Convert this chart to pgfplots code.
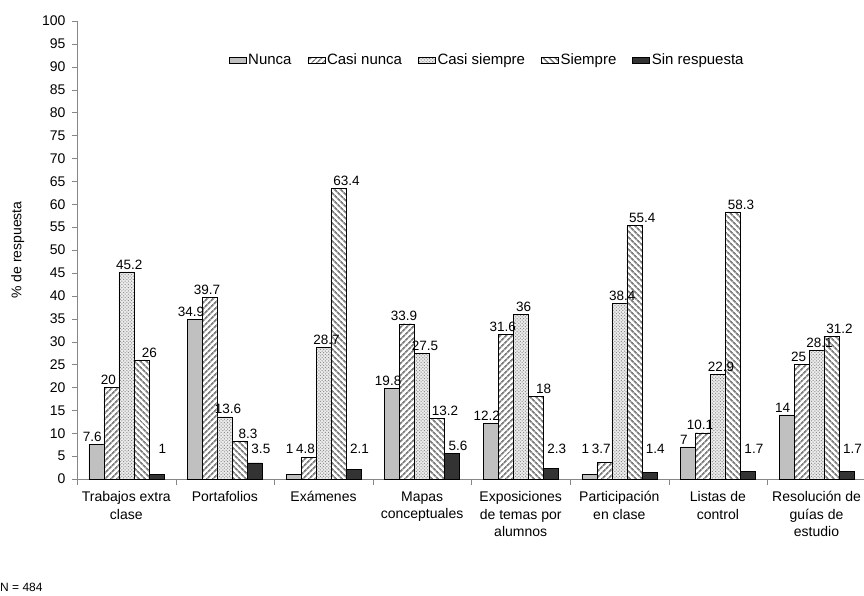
\documentclass[border=0pt]{standalone}
\usepackage{fontspec}
\setmainfont{Liberation Sans}
\usepackage{pgfplots}
\pgfplotsset{compat=1.18}
\usetikzlibrary{patterns.meta}
\definecolor{nunca}{HTML}{C0C0C0}
\definecolor{sinresp}{HTML}{333333}
\definecolor{stripe}{HTML}{7F7F7F}
\definecolor{axisgray}{HTML}{868686}

\begin{document}
\begin{tikzpicture}
\useasboundingbox (0,0) rectangle (864pt,595pt);
\begin{axis}[
  at={(77pt,116pt)}, anchor=south west,
  scale only axis, width=788.8pt, height=458pt,
  ybar=0pt, bar width=0.152,
  xmin=-0.5, xmax=7.5, ymin=0, ymax=100,
  axis lines*=left,
  axis line style={axisgray},
  xtick={0,...,7},
  xticklabels={{Trabajos extra\\clase},{Portafolios},{Exámenes},{Mapas\\conceptuales},{Exposiciones\\de temas por\\alumnos},{Participación\\en clase},{Listas de\\control},{Resolución de\\guías de\\estudio}},
  minor xtick={-0.5,0.5,...,7.5},
  major x tick style={draw=none},
  minor x tick style={axisgray},
  ytick={0,5,...,100},
  y tick style={axisgray},
  tick align=outside,
  major tick length=5pt, minor tick length=6pt,
  xticklabel style={align=center, font=\fontsize{14}{17.5}\selectfont, yshift=-4pt},
  yticklabel style={font=\fontsize{14}{16}\selectfont, xshift=-3pt},
  /pgf/number format/assume math mode=true,
  ylabel={\% de respuesta},
  every axis y label/.style={at={(axis description cs:-0.075,0.5)}, rotate=90, anchor=center, font=\fontsize{14}{16}\selectfont},
  nodes near coords,
  visualization depends on={y \as \rawy},
  every node near coord/.append style={font=\fontsize{13.5}{15}\selectfont, black, inner sep=2.5pt, yshift={max(0,(5-\rawy)*4.58)}},
  legend style={at={(rel axis cs:0.52,0.915)}, anchor=center, draw=none, fill=none,
    font=\fontsize{15}{17}\selectfont, legend columns=5,
    /tikz/every even column/.append style={column sep=14pt}},
  legend cell align=left,
]
\addplot[fill=nunca, draw=black, area legend,
  every node near coord/.append style={xshift=-4pt}]
  coordinates {(0,7.6) (1,34.9) (2,1) (3,19.8) (4,12.2) (5,1) (6,7) (7,14)};
\addplot[fill=white, draw=black, area legend,
  postaction={pattern={Lines[angle=45,distance=4pt,line width=1.8pt]}, pattern color=stripe},
  every node near coord/.append style={xshift=-3pt}]
  coordinates {(0,20) (1,39.7) (2,4.8) (3,33.9) (4,31.6) (5,3.7) (6,10.1) (7,25)};
\addplot[fill=gray!15, draw=black, area legend,
  postaction={pattern={Dots[distance=2.3pt,radius=0.7pt,angle=45]}, pattern color=gray!90},
  every node near coord/.append style={xshift=3pt}]
  coordinates {(0,45.2) (1,13.6) (2,28.7) (3,27.5) (4,36) (5,38.4) (6,22.9) (7,28.1)};
\addplot[fill=white, draw=black, area legend,
  postaction={pattern={Lines[angle=-45,distance=4pt,line width=1.8pt]}, pattern color=stripe},
  every node near coord/.append style={xshift=8pt}]
  coordinates {(0,26) (1,8.3) (2,63.4) (3,13.2) (4,18) (5,55.4) (6,58.3) (7,31.2)};
\addplot[fill=sinresp, draw=black, area legend,
  every node near coord/.append style={xshift=6pt}]
  coordinates {(0,1) (1,3.5) (2,2.1) (3,5.6) (4,2.3) (5,1.4) (6,1.7) (7,1.7)};
\legend{Nunca,Casi nunca,Casi siempre,Siempre,Sin respuesta}
\end{axis}
\node[anchor=base west, font=\fontsize{12}{14}\selectfont, inner sep=0pt] at (0pt,4pt) {N = 484};
\end{tikzpicture}
\end{document}
